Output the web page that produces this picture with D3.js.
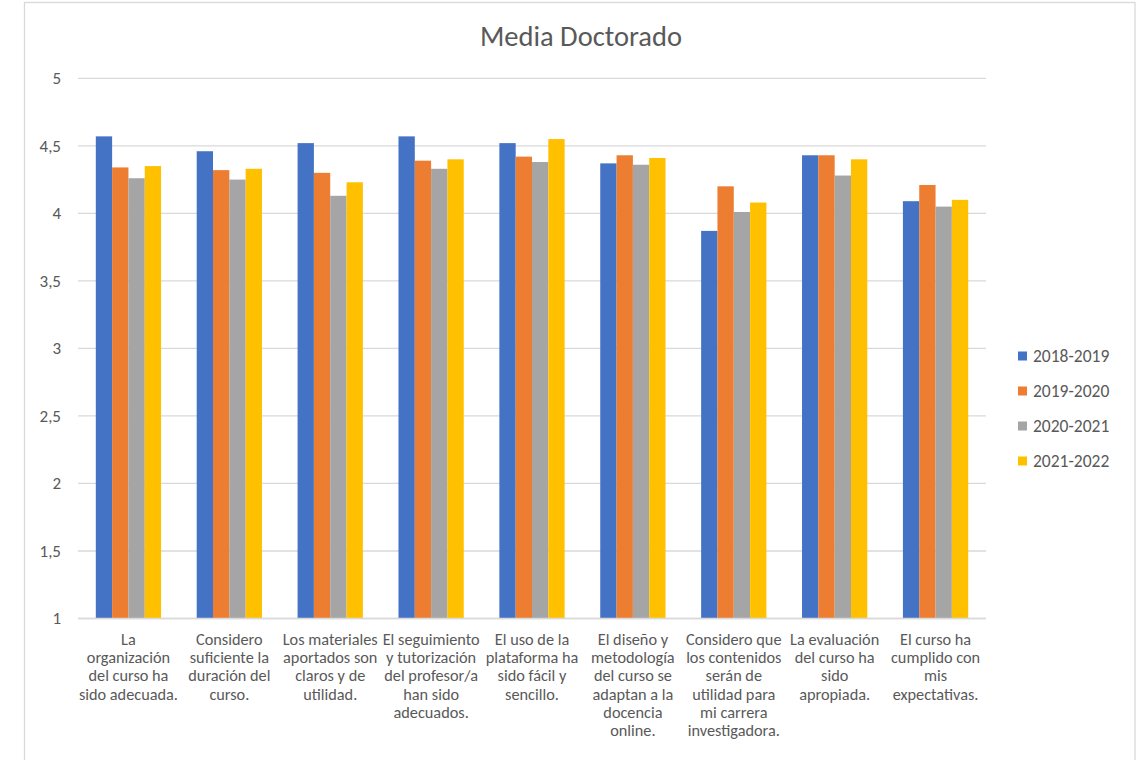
<!DOCTYPE html>
<html>
<head>
<meta charset="utf-8">
<script src="https://cdn.jsdelivr.net/npm/d3@7"></script>
<style>
  body { margin: 0; background: #fff; }
  text { font-family: Carlito, Calibri, Lato, "Open Sans", sans-serif; fill: #595959; }
</style>
</head>
<body>
<div id="chart"></div>
<script>
// categories (line breaks as shown in the chart)
const categories = [
  "La\norganización\ndel curso ha\nsido adecuada.",
  "Considero\nsuficiente la\nduración del\ncurso.",
  "Los materiales\naportados son\nclaros y de\nutilidad.",
  "El seguimiento\ny tutorización\ndel profesor/a\nhan sido\nadecuados.",
  "El uso de la\nplataforma ha\nsido fácil y\nsencillo.",
  "El diseño y\nmetodología\ndel curso se\nadaptan a la\ndocencia\nonline.",
  "Considero que\nlos contenidos\nserán de\nutilidad para\nmi carrera\ninvestigadora.",
  "La evaluación\ndel curso ha\nsido\napropiada.",
  "El curso ha\ncumplido con\nmis\nexpectativas."
];
const seriesNames = ["2018-2019", "2019-2020", "2020-2021", "2021-2022"];
const s2018 = [4.57, 4.46, 4.52, 4.57, 4.52, 4.37, 3.87, 4.43, 4.09];
const s2019 = [4.34, 4.32, 4.30, 4.39, 4.42, 4.43, 4.20, 4.43, 4.21];
const s2020 = [4.26, 4.25, 4.13, 4.33, 4.38, 4.36, 4.01, 4.28, 4.05];
const s2021 = [4.35, 4.33, 4.23, 4.40, 4.55, 4.41, 4.08, 4.40, 4.10];
const yTicks = [1, 1.5, 2, 2.5, 3, 3.5, 4, 4.5, 5];
const colors = ["#4472C4", "#ED7D31", "#A5A5A5", "#FFC000"];

const allSeries = [s2018, s2019, s2020, s2021];
const width = 1148, height = 760;
const margin = { top: 78.3, right: 162, bottom: 141.5, left: 78 };

const svg = d3.select("#chart").append("svg")
  .attr("width", width).attr("height", height);

// chart border
svg.append("rect")
  .attr("x", 24.5).attr("y", 2.5)
  .attr("width", 1110.5).attr("height", 800)
  .attr("fill", "#fff").attr("stroke", "#d9d9d9").attr("stroke-width", 1.3);

const x = d3.scaleBand()
  .domain(d3.range(categories.length))
  .range([margin.left, width - margin.right])
  .paddingInner(0.353).paddingOuter(0.1765);

const xs = d3.scaleBand()
  .domain(d3.range(seriesNames.length))
  .range([0, x.bandwidth()]);

const y = d3.scaleLinear()
  .domain([1, 5])
  .range([height - margin.bottom, margin.top]);

// gridlines
svg.append("g").selectAll("line")
  .data(yTicks)
  .join("line")
  .attr("x1", margin.left).attr("x2", width - margin.right)
  .attr("y1", d => y(d)).attr("y2", d => y(d))
  .attr("stroke", "#d9d9d9").attr("stroke-width", 1.3);

// y tick labels
svg.append("g").selectAll("text")
  .data(yTicks)
  .join("text")
  .attr("x", 61).attr("y", d => y(d))
  .attr("dy", "0.35em")
  .attr("text-anchor", "end")
  .style("font-size", "17px")
  .text(d => d3.format("")(d).replace(".", ","));

// bars
const groups = svg.append("g").selectAll("g")
  .data(categories.map((c, i) => i))
  .join("g")
  .attr("transform", i => `translate(${x(i)},0)`);

groups.selectAll("rect")
  .data(i => allSeries.map((s, k) => ({ k, v: s[i] })))
  .join("rect")
  .attr("x", d => xs(d.k))
  .attr("width", xs.bandwidth())
  .attr("y", d => y(d.v))
  .attr("height", d => y(1) - y(d.v))
  .attr("fill", d => colors[d.k]);

// bottom axis line
svg.append("line")
  .attr("x1", margin.left).attr("x2", width - margin.right)
  .attr("y1", y(1)).attr("y2", y(1))
  .attr("stroke", "#d9d9d9").attr("stroke-width", 1.3);

// category labels
const xLabels = svg.append("g").selectAll("text")
  .data(categories.map((c, i) => i))
  .join("text")
  .attr("text-anchor", "middle")
  .style("font-size", "16.3px")
  .attr("transform", i => `translate(${x(i) + x.bandwidth() / 2},645)`);
xLabels.selectAll("tspan")
  .data(i => categories[i].split("\n"))
  .join("tspan")
  .attr("x", 0)
  .attr("y", (d, j) => j * 18.2)
  .text(d => d);

// title
svg.append("text")
  .attr("x", 581).attr("y", 46)
  .attr("text-anchor", "middle")
  .style("font-size", "28.5px")
  .text("Media Doctorado");

// legend
const legend = svg.append("g").selectAll("g")
  .data(seriesNames)
  .join("g")
  .attr("transform", (d, i) => `translate(1018,${356 + i * 35})`);
legend.append("rect")
  .attr("x", 0).attr("y", -4.5)
  .attr("width", 9).attr("height", 9)
  .attr("fill", (d, i) => colors[i]);
legend.append("text")
  .attr("x", 15).attr("y", 0).attr("dy", "0.35em")
  .style("font-size", "17.5px")
  .text(d => d);
</script>
</body>
</html>
